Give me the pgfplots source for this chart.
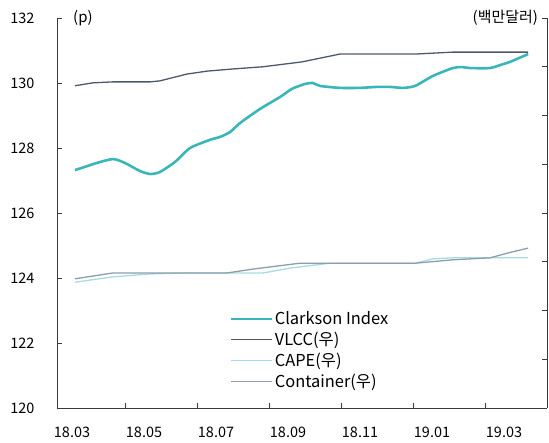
\documentclass[border=0pt]{standalone}
\usepackage{fontspec}
\setmainfont{Noto Sans CJK KR}
\usepackage{pgfplots}
\usepackage{pgfplotstable}
\pgfplotsset{compat=1.18}

\definecolor{clark}{HTML}{3AB6B8}
\definecolor{vlcc}{HTML}{4D5A66}
\definecolor{cape}{HTML}{A3DDE1}
\definecolor{cont}{HTML}{8C9DAC}
\definecolor{axisgray}{HTML}{3A3A3A}

% x = months since 2018.03 (weekly readings)
\pgfplotstableread{
x      y
0.08   127.32
0.36   127.42
0.69   127.54
1.14   127.66
1.47   127.54
1.89   127.29
2.17   127.20
2.44   127.26
2.86   127.57
3.28   128.00
3.83   128.25
4.11   128.34
4.39   128.49
4.67   128.77
5.22   129.20
5.78   129.57
6.11   129.82
6.47   129.97
6.69   130.00
6.89   129.91
7.44   129.85
8.00   129.85
8.47   129.88
8.83   129.88
9.19   129.85
9.53   129.91
10.03  130.22
10.58  130.46
10.83  130.49
11.06  130.46
11.61  130.46
11.97  130.58
12.17  130.65
12.67  130.89
}\clarkson

\pgfplotstableread{
x      y
0.08   6.61
0.58   6.67
1.14   6.69
2.17   6.69
2.44   6.71
3.19   6.85
3.75   6.91
4.39   6.95
5.31   7.00
6.39   7.10
7.44   7.26
9.53   7.26
10.58  7.30
12.67  7.30
}\vlcc

\pgfplotstableread{
x      y
0.08   2.58
1.14   2.69
2.17   2.75
3.28   2.77
5.31   2.77
6.06   2.87
7.17   2.97
9.53   2.97
10.03  3.06
10.58  3.08
12.67  3.08
}\cape

\pgfplotstableread{
x      y
0.08   2.65
1.14   2.77
2.17   2.77
3.28   2.77
4.31   2.77
5.03   2.85
6.33   2.97
7.44   2.97
9.53   2.97
10.58  3.04
11.61  3.08
12.11  3.18
12.67  3.28
}\container

\pgfplotsset{
  base/.style={
    scale only axis, width=490bp, height=390bp,
    at={(0,0)}, anchor=south west,
    xmin=-0.417, xmax=13.194,
    tick align=inside, major tick length=5bp,
    every tick/.style={axisgray, line width=0.8pt},
    axis line style={axisgray, line width=0.9pt},
    /pgf/number format/assume math mode=true,
    tick label style={font=\fontsize{14.5}{17}\selectfont, text=black},
    clip mode=individual,
  },
}

\begin{document}
\begin{tikzpicture}[font=\fontsize{14.5}{17}\selectfont]
\path[use as bounding box] (-57bp,-35bp) rectangle (492bp,408bp);

% left axis: Clarkson index
\begin{axis}[base,
  axis y line*=left, axis x line*=bottom,
  ymin=120, ymax=132, ytick={120,122,...,132},
  yticklabel style={xshift=-19bp},
  xtick={1.47,3.47,5.47,7.47,9.47,11.47}, xticklabels={},
  extra x ticks={0,2,4,6,8,10,12},
  extra x tick labels={18.03,18.05,18.07,18.09,18.11,19.01,19.03},
  extra x tick style={major tick length=0pt, xticklabel style={yshift=-15bp}},
]
\addplot[clark, line width=2.6pt, smooth, tension=0.4] table[x=x, y=y] {\clarkson};
\end{axis}

% unit captions above each axis
\node[anchor=west, font=\fontsize{15}{18}\selectfont, inner sep=0pt] at (16bp,390bp) {(p)};
\node[anchor=east, font=\fontsize{15}{18}\selectfont, inner sep=0pt] at (481bp,390bp) {(백만달러)};

% right axis: freight-rate series
\begin{axis}[base,
  axis y line*=right, axis x line=none,
  ymin=0, ymax=8, ytick={0,1,...,8}, yticklabels={},
  legend style={at={(rel axis cs:0.345,0.258)}, anchor=north west,
    draw=none, fill=none, font=\fontsize{16.5}{19}\selectfont,
    row sep=2bp},
  legend cell align=left,
  legend image code/.code={\draw[#1] (0bp,0bp) -- (41bp,0bp);},
]
\addlegendimage{clark, line width=2.6pt}
\addlegendentry{Clarkson Index}
\addplot[vlcc, line width=1.3pt] table[x=x, y=y] {\vlcc};
\addlegendentry{VLCC(우)}
\addplot[cape, line width=1.3pt] table[x=x, y=y] {\cape};
\addlegendentry{CAPE(우)}
\addplot[cont, line width=1.3pt] table[x=x, y=y] {\container};
\addlegendentry{Container(우)}
\end{axis}
\end{tikzpicture}
\end{document}
